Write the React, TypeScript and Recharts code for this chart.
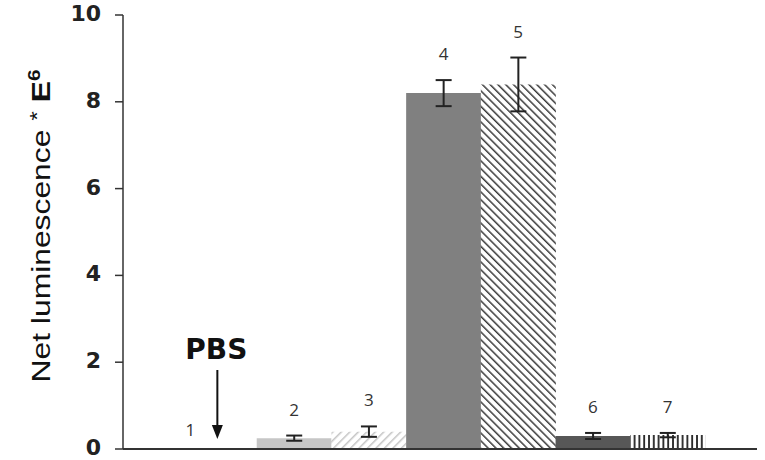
import React from "react";
import { ComposedChart, Bar, Cell, XAxis, YAxis, ErrorBar, Scatter } from "recharts";

const categories = ["1", "2", "3", "4", "5", "6", "7"];
const values = [0, 0.25, 0.4, 8.2, 8.4, 0.3, 0.32];
const errors = [0, 0.06, 0.12, 0.3, 0.62, 0.07, 0.05];
const annotations = ["PBS", "", "", "", "", "", ""];
const yTicks = [0, 2, 4, 6, 8, 10];

const data = categories.map((name, i) => ({
  name,
  value: values[i],
  err: errors[i] > 0 ? errors[i] : undefined,
  top: values[i] + errors[i],
  note: annotations[i],
}));

const fills = ["#c6c6c6", "#c6c6c6", "url(#hatchLight)", "#808080", "url(#hatchDark)", "#575757", "url(#vStripes)"];

const YTick = (props: any) => {
  const { x, y, payload } = props;
  return (
    <text x={x} y={y} dy={6} textAnchor="end" fontFamily="DejaVu Sans" fontWeight="bold" fontSize={22} fill="#222">
      {payload.value}
    </text>
  );
};

const YLabel = (props: any) => {
  const vb = props.viewBox || { x: 0, y: 15, width: 123, height: 434 };
  const cx = 50;
  const cy = vb.y + vb.height / 2 - 6;
  return (
    <text
      x={cx}
      y={cy}
      transform={`rotate(-90 ${cx} ${cy})`}
      textAnchor="middle"
      fontFamily="Liberation Sans, Arial"
      fontSize={26}
      fill="#111"
      textLength={313}
      lengthAdjust="spacingAndGlyphs"
    >
      <tspan>Net luminescence </tspan>
      <tspan dy={-6} fontSize={20}>*</tspan>
      <tspan dy={6} fontWeight="bold"> E</tspan>
      <tspan dy={-10} fontSize={17} fontWeight="bold">6</tspan>
    </text>
  );
};

const LabelShape = (props: any) => {
  const { cx, cy, payload } = props;
  if (cx == null || cy == null) return null;
  if (payload.note) {
    return (
      <g>
        <text x={cx - 29} y={cy - 13} textAnchor="middle" fontFamily="Open Sans" fontSize={17} fill="#333">
          {payload.name}
        </text>
        <text x={cx - 3} y={cy - 90} textAnchor="middle" fontFamily="DejaVu Sans" fontWeight="bold" fontSize={28} fill="#111">
          {payload.note}
        </text>
        <line x1={cx - 2} y1={cy - 79} x2={cx - 2} y2={cy - 22} stroke="#111" strokeWidth={2} />
        <polygon points={`${cx - 7.5},${cy - 24} ${cx + 3.5},${cy - 24} ${cx - 2},${cy - 10}`} fill="#111" />
      </g>
    );
  }
  return (
    <text x={cx} y={cy - 20} textAnchor="middle" fontFamily="Open Sans" fontSize={17} fill="#333">
      {payload.name}
    </text>
  );
};

export default function App() {
  return (
    <div style={{ position: "absolute", left: 0, top: 0, width: 765, height: 460, background: "#fff" }}>
      <ComposedChart width={765} height={460} data={data} margin={{ top: 15, right: 8, bottom: 10, left: 0 }} barCategoryGap={0}>
        <defs>
          <pattern id="hatchLight" patternUnits="userSpaceOnUse" width={6} height={6} patternTransform="rotate(45)">
            <rect width={6} height={6} fill="#fff" />
            <line x1={0} y1={0} x2={0} y2={6} stroke="#c4c4c4" strokeWidth={3} />
          </pattern>
          <pattern id="hatchDark" patternUnits="userSpaceOnUse" width={5.5} height={5.5} patternTransform="rotate(-45)">
            <rect width={5.5} height={5.5} fill="#fff" />
            <line x1={0} y1={0} x2={0} y2={5.5} stroke="#3a3a3a" strokeWidth={3} />
          </pattern>
          <pattern id="vStripes" patternUnits="userSpaceOnUse" width={4.8} height={4.8}>
            <rect width={4.8} height={4.8} fill="#fff" />
            <line x1={1} y1={0} x2={1} y2={4.8} stroke="#222" strokeWidth={1.8} />
          </pattern>
        </defs>
        <XAxis
          dataKey="name"
          tick={false}
          tickLine={false}
          height={1}
          axisLine={{ stroke: "#333", strokeWidth: 2 }}
          padding={{ left: 59, right: 52 }}
        />
        <YAxis
          domain={[0, 10]}
          ticks={yTicks}
          width={123}
          tickSize={8}
          tickMargin={14}
          tick={<YTick />}
          tickLine={{ stroke: "#333", strokeWidth: 1.5 }}
          axisLine={{ stroke: "#333", strokeWidth: 1.5 }}
          allowDataOverflow
          label={<YLabel />}
        />
        <Bar dataKey="value" isAnimationActive={false}>
          {data.map((d, i) => (
            <Cell key={d.name} fill={fills[i]} />
          ))}
          <ErrorBar dataKey="err" width={8} stroke="#222" strokeWidth={2} direction="y" />
        </Bar>
        <Scatter dataKey="top" isAnimationActive={false} shape={<LabelShape />} />
      </ComposedChart>
    </div>
  );
}
